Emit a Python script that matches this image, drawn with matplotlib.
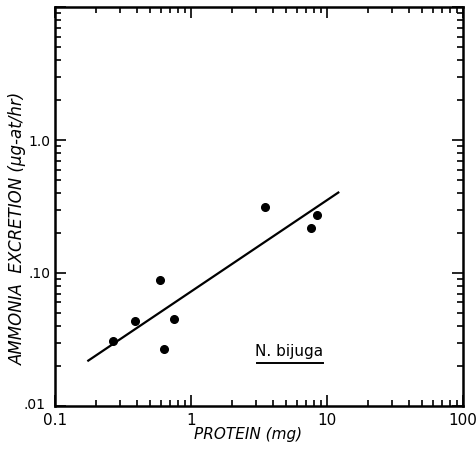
import matplotlib
matplotlib.use("Agg")
import matplotlib.pyplot as plt
from matplotlib.ticker import LogLocator, FixedLocator, FixedFormatter, NullFormatter
from matplotlib.transforms import ScaledTranslation

# Data
protein_mg = [0.265, 0.387, 0.592, 0.637, 0.75, 3.5, 7.6, 8.4]
ammonia = [0.0308, 0.0434, 0.088, 0.027, 0.0447, 0.311, 0.219, 0.271]
fit_x = [0.173, 12.3]
fit_y = [0.0217, 0.407]

x_ticks = [0.1, 1, 10, 100]
x_labels = ["0.1", "1", "10", "100"]
y_ticks = [0.01, 0.1, 1.0, 10.0]
y_labels = [".01", ".10", "1.0", ""]

plt.rcParams['font.family'] = ['DejaVu Sans']

fig = plt.figure(figsize=(4.76, 4.53), dpi=100)
ax = fig.add_axes([0.1155, 0.1038, 0.8572, 0.8807])
ax.set_xscale('log')
ax.set_yscale('log')
ax.set_xlim(0.1, 100)
ax.set_ylim(0.01, 10)

ax.plot(fit_x, fit_y, color='black', lw=1.6, solid_capstyle='butt')
ax.plot(protein_mg, ammonia, 'o', color='black', ms=5.5)

ax.xaxis.set_major_locator(FixedLocator(x_ticks))
ax.xaxis.set_major_formatter(FixedFormatter(x_labels))
ax.yaxis.set_major_locator(FixedLocator(y_ticks))
ax.yaxis.set_major_formatter(FixedFormatter(y_labels))
ax.xaxis.set_minor_locator(LogLocator(base=10, subs=range(2, 10)))
ax.yaxis.set_minor_locator(LogLocator(base=10, subs=range(2, 10)))
ax.xaxis.set_minor_formatter(NullFormatter())
ax.yaxis.set_minor_formatter(NullFormatter())

ax.tick_params(which='both', direction='in', top=True, right=True, width=1.2, colors='black')
ax.tick_params(which='major', length=8)
ax.tick_params(axis='x', which='major', pad=5, labelsize=11)
ax.tick_params(axis='y', which='major', pad=3, labelsize=10)
ax.tick_params(which='minor', length=4.5)
for s in ax.spines.values():
    s.set_linewidth(1.8)

fig.canvas.draw()
lab = ax.yaxis.get_major_ticks()[0].label1
lab.set_transform(lab.get_transform() + ScaledTranslation(-5 / 100, 2 / 100, fig.dpi_scale_trans))

ax.set_xlabel('PROTEIN (mg)', fontsize=11, style='italic')
ax.xaxis.set_label_coords(0.473, -0.052)
ax.xaxis.label.set_va('top')
ax.set_ylabel('AMMONIA  EXCRETION (\u03bcg-at/hr)', fontsize=12, style='italic')
ax.yaxis.set_label_coords(-0.0686, 0.444)

ax.text(5.3, 0.0255, 'N. bijuga', fontsize=11, ha='center', va='center')
ax.plot([3.06, 9.3], [0.0212, 0.0212], color='black', lw=1.4)

fig.savefig('out.png', dpi=100)
